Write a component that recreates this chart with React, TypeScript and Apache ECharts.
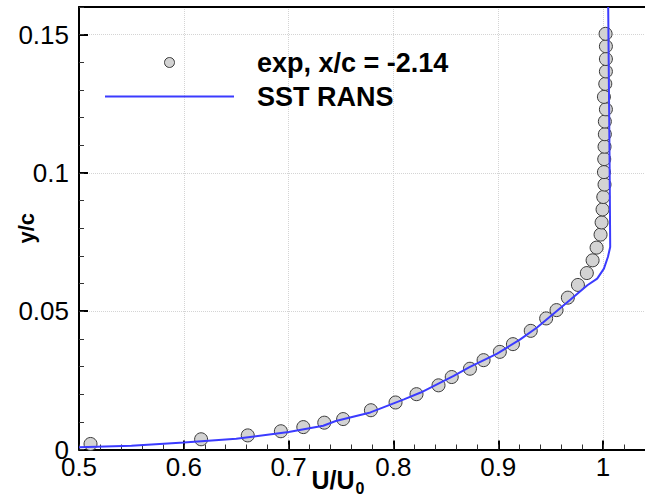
import React, { useEffect, useRef } from "react";
import * as echarts from "echarts";

const expX = [0.511, 0.6165, 0.661, 0.6926, 0.714, 0.734, 0.752, 0.7785, 0.802, 0.822, 0.843, 0.8556, 0.873, 0.886, 0.9015, 0.914, 0.931, 0.9457, 0.9556, 0.9664, 0.976, 0.9845, 0.99, 0.9938, 0.9976, 0.9986, 0.9995, 1.0002, 1.0014, 1.0008, 1.0011, 1.0014, 1.0017, 1.0017, 1.0027, 1.0008, 1.0021, 1.0027, 1.0027, 1.0027, 1.0024];
const expY = [0.002, 0.0037, 0.0051, 0.0066, 0.0081, 0.0097, 0.011, 0.0142, 0.017, 0.02, 0.0232, 0.0262, 0.0292, 0.0323, 0.0353, 0.0381, 0.0429, 0.0474, 0.0504, 0.0549, 0.0595, 0.0638, 0.0684, 0.073, 0.0777, 0.0821, 0.0868, 0.0913, 0.0958, 0.1003, 0.105, 0.1095, 0.114, 0.1186, 0.123, 0.1275, 0.1322, 0.1367, 0.1412, 0.1458, 0.1503];

const simX = [0.5, 0.55, 0.6, 0.65, 0.7, 0.733, 0.745, 0.778, 0.81, 0.826, 0.8575, 0.873, 0.899, 0.921, 0.937, 0.953, 0.969, 0.985, 0.9944, 1.0008, 1.0046, 1.0068, 1.0063, 1.0049];
const simY = [0.0008, 0.0014, 0.0025, 0.0039, 0.0063, 0.0086, 0.0103, 0.0134, 0.0181, 0.0206, 0.0266, 0.0299, 0.0347, 0.0398, 0.0441, 0.0492, 0.0542, 0.0594, 0.0618, 0.0654, 0.0696, 0.0732, 0.1, 0.16];

const seriesNames = ["exp, x/c = -2.14", "SST RANS"];
const xRange = [0.5, 1.04];
const yRange = [0, 0.16];
const xMajor = 0.1;
const xMinor = 0.02;
const yMajor = 0.05;
const yMinor = 0.01;

const FONT = "Liberation Sans, Arial, sans-serif";

export default function App() {
  const ref = useRef<HTMLDivElement>(null);
  useEffect(() => {
    if (!ref.current) return;
    const chart = echarts.init(ref.current, null, { renderer: "svg" });
    const labelStyle = { color: "#000", fontSize: 26, fontFamily: FONT };
    const split = { show: true, lineStyle: { color: "#d4d4d4", type: "dotted", width: 1 } };
    chart.setOption({
      animation: false,
      backgroundColor: "#fff",
      grid: { left: 79, right: 0, top: 7, bottom: 51.5, outerBoundsMode: "none", containLabel: false },
      legend: {
        orient: "vertical",
        left: 105,
        top: 49,
        padding: 0,
        itemWidth: 129,
        itemHeight: 10,
        itemGap: 7,
        data: [
          { name: seriesNames[0], itemStyle: { borderWidth: 1 } },
          { name: seriesNames[1], icon: "path://M0,0L129,0L129,2L0,2Z", itemStyle: { borderWidth: 0 } },
        ],
        textStyle: { fontSize: 27, fontWeight: "bold", color: "#000", fontFamily: FONT, padding: [0, 0, 0, 18] },
        selectedMode: false,
      },
      xAxis: [
        {
          type: "value",
          position: "bottom",
          min: xRange[0],
          max: xRange[1],
          interval: xMajor,
          axisLine: { show: true, onZero: false, lineStyle: { color: "#000", width: 2 } },
          axisTick: { show: true, inside: true, length: 9, lineStyle: { color: "#000", width: 2 } },
          axisLabel: { ...labelStyle, margin: 4, showMaxLabel: false },
          splitLine: split,
          name: "{a|U/U}{b|0}",
          nameLocation: "middle",
          nameGap: 13,
          nameMoveOverlap: false,
          nameTextStyle: {
            padding: [0, 48, 0, 0],
            rich: {
              a: { fontSize: 25, fontWeight: "bold", fontFamily: FONT, color: "#000", verticalAlign: "middle" },
              b: { fontSize: 16, fontWeight: "bold", fontFamily: FONT, color: "#000", verticalAlign: "middle", padding: [18, 0, 0, 1] },
            },
          },
        },
        {
          type: "value",
          position: "bottom",
          min: xRange[0],
          max: xRange[1],
          interval: xMinor,
          axisLine: { show: false, onZero: false },
          axisTick: { show: true, inside: true, length: 5, lineStyle: { color: "#333", width: 1 } },
          axisLabel: { show: false },
          splitLine: { show: false },
        },
        {
          type: "value",
          position: "top",
          min: xRange[0],
          max: xRange[1],
          axisLine: { show: true, onZero: false, lineStyle: { color: "#000", width: 2 } },
          axisTick: { show: false },
          axisLabel: { show: false },
          splitLine: { show: false },
        },
      ],
      yAxis: [
        {
          type: "value",
          position: "left",
          min: yRange[0],
          max: yRange[1],
          interval: yMajor,
          axisLine: { show: true, onZero: false, lineStyle: { color: "#000", width: 2 } },
          axisTick: { show: true, inside: true, length: 9, lineStyle: { color: "#000", width: 2 } },
          axisLabel: { ...labelStyle, margin: 10, showMaxLabel: false },
          splitLine: split,
          name: "y/c",
          nameLocation: "middle",
          nameGap: 42,
          nameMoveOverlap: false,
          nameTextStyle: { fontSize: 22, fontWeight: "bold", color: "#000", fontFamily: FONT },
        },
        {
          type: "value",
          position: "left",
          min: yRange[0],
          max: yRange[1],
          interval: yMinor,
          axisLine: { show: false, onZero: false },
          axisTick: { show: true, inside: true, length: 5, lineStyle: { color: "#333", width: 1 } },
          axisLabel: { show: false },
          splitLine: { show: false },
        },
      ],
      series: [
        {
          name: seriesNames[0],
          type: "scatter",
          xAxisIndex: 0,
          yAxisIndex: 0,
          symbol: "circle",
          symbolSize: 13,
          itemStyle: { color: "#d3d3d3", borderColor: "#3a3a3a", borderWidth: 1, opacity: 1 },
          data: expX.map((x, i) => [x, expY[i]]),
        },
        {
          name: seriesNames[1],
          type: "line",
          xAxisIndex: 0,
          yAxisIndex: 0,
          symbol: "none",
          showSymbol: false,
          lineStyle: { color: "#3b3bff", width: 2 },
          itemStyle: { color: "#3b3bff" },
          data: simX.map((x, i) => [x, simY[i]]),
        },
      ],
    });
    return () => chart.dispose();
  }, []);
  return (
    <div
      ref={ref}
      style={{ position: "fixed", left: 0, top: 0, width: 645, height: 501, background: "#fff" }}
    />
  );
}
